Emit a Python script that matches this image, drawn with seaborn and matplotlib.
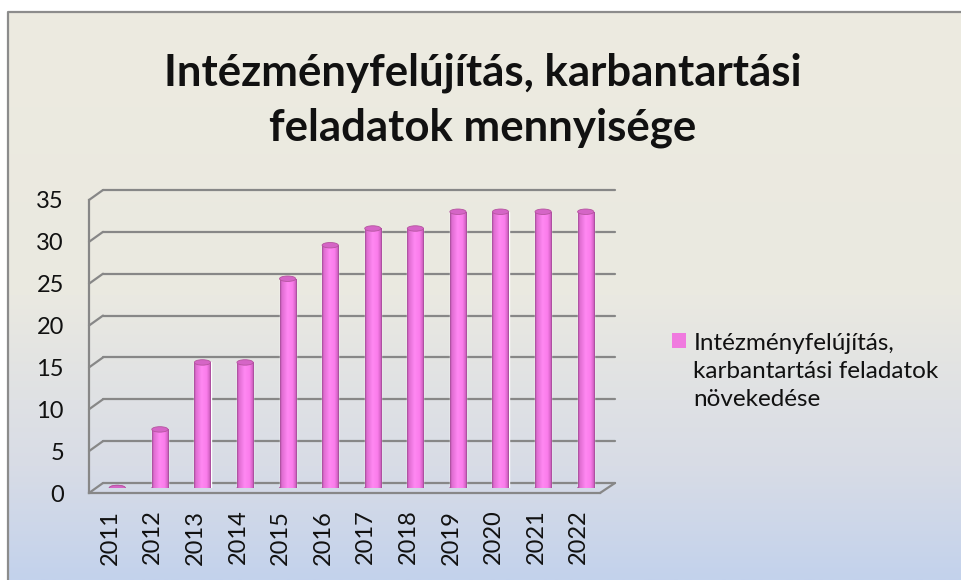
import numpy as np
import pandas as pd
import seaborn as sns
import matplotlib.pyplot as plt
from matplotlib.patches import Ellipse, Patch
from matplotlib.lines import Line2D
from matplotlib.colors import LinearSegmentedColormap

# data
years = ['2011', '2012', '2013', '2014', '2015', '2016',
         '2017', '2018', '2019', '2020', '2021', '2022']
values = [0, 7, 15, 15, 25, 29, 31, 31, 33, 33, 33, 33]
y_ticks = [0, 5, 10, 15, 20, 25, 30, 35]
title = 'Intézményfelújítás, karbantartási\nfeladatok mennyisége'
series_label = 'Intézményfelújítás,\nkarbantartási feladatok\nnövekedése'

sns.set_theme(style='white')
plt.rcParams['font.family'] = ['Lato', 'DejaVu Sans']
plt.rcParams['text.color'] = '#111111'
plt.rcParams['xtick.color'] = '#111111'
plt.rcParams['ytick.color'] = '#111111'

W, H = 961, 580
grid = '#878787'
fig = plt.figure(figsize=(W / 100, H / 100), dpi=100)


def box(left, right, top, bottom):
    # pixel box -> figure rect
    return [left / W, 1 - bottom / H, (right - left) / W, (bottom - top) / H]


# background gradient + border
bg = fig.add_axes([0, 0, 1, 1], zorder=0)
bg_cmap = LinearSegmentedColormap.from_list(
    'bg', [(0, '#EDEBE0'), (0.5, '#EAE9E1'), (0.8, '#D8DCE6'), (1, '#C3D2EC')])
bg.imshow(np.linspace(0, 1, 256).reshape(-1, 1), cmap=bg_cmap, aspect='auto',
          extent=[8, W, H, 12])
bg.plot([8, 8, W], [H, 12, 12], color='#8C8C8C', lw=1.6)
bg.set_xlim(0, W)
bg.set_ylim(H, 0)
bg.axis('off')

# back wall gridlines
back = fig.add_axes(box(103, 615, 190, 483), zorder=1)
back.set_xlim(0, 1)
back.set_ylim(0, 35)
for v in y_ticks:
    back.axhline(v, color=grid, lw=1.6, clip_on=False)
back.axis('off')

# front axis
front = fig.add_axes(box(89, 600, 200, 493), zorder=2)
front.patch.set_visible(False)
front.set_xlim(-0.5, 11.5)
front.set_ylim(0, 35)
front.set_yticks(y_ticks)
front.set_xticks(range(len(years)))
front.set_xticklabels(years, rotation=90)
front.set_xticks(np.arange(-0.5, len(years), 1), minor=True)
front.tick_params(axis='x', which='major', length=0, pad=12, labelsize=17)
front.tick_params(axis='x', which='minor', length=7.5, width=1.6, color=grid)
front.tick_params(axis='y', length=5, width=1.6, color=grid, pad=13, labelsize=17)
sns.despine(ax=front)
for s in ['left', 'bottom']:
    front.spines[s].set_color(grid)
    front.spines[s].set_linewidth(1.6)

# side wall / floor diagonals linking front axis and back wall
fig.canvas.draw()
for v in y_ticks:
    p0 = front.transData.transform((-0.5, v))
    p1 = back.transData.transform((0, v))
    fig.add_artist(Line2D([p0[0], p1[0]], [p0[1], p1[1]], transform=None,
                          color=grid, lw=1.6, zorder=1.5))
p0 = front.transData.transform((11.5, 0))
p1 = back.transData.transform((1, 0))
fig.add_artist(Line2D([p0[0], p1[0]], [p0[1], p1[1]], transform=None,
                      color=grid, lw=1.6, zorder=1.5))

# bars at mid depth
ax = fig.add_axes(box(96, 607, 195, 488), zorder=3)
df = pd.DataFrame({'year': years, 'value': values})
sns.barplot(data=df, x='year', y='value', color='#F47CE6', saturation=1,
            width=0.38, ax=ax)
cyl = LinearSegmentedColormap.from_list(
    'cyl', [(0, '#A24C96'), (0.1, '#DE6CD0'), (0.45, '#FF88F2'),
            (0.75, '#FA7DEB'), (0.92, '#D664C7'), (1, '#9E4892')])
for p, v in zip(list(ax.patches), values):
    x0, w = p.get_x(), p.get_width()
    ax.add_patch(Ellipse((x0 + w / 2, 0), w, 0.65, fc='#E772D8', ec='#B5559F',
                         lw=0.6, zorder=2))
    if v > 0:
        im = ax.imshow(np.linspace(0, 1, 64).reshape(1, -1), cmap=cyl,
                       aspect='auto', extent=[x0, x0 + w, 0, v], zorder=3)
        im.set_clip_path(p)
    ax.add_patch(Ellipse((x0 + w / 2, v), w, 0.65, fc='#D565C6', ec='#B5559F',
                         lw=0.6, zorder=4))
ax.set_xlim(-0.5, 11.5)
ax.set_ylim(0, 35)
ax.axis('off')

# legend
handle = Patch(facecolor='#F07ADF', edgecolor='none')
leg = fig.legend([handle], [series_label], loc='upper left',
                 bbox_to_anchor=(672 / W, 1 - 333 / H), frameon=False,
                 prop={'family': ['Lato', 'DejaVu Sans'], 'size': 17.5},
                 handlelength=0.58, handleheight=0.58, handletextpad=0.3,
                 borderpad=0, borderaxespad=0)
leg.texts[0].set_linespacing(1.4)
for col in leg._legend_handle_box.get_children():
    for item in col.get_children():
        item.align = 'top'

# title
fig.text(483 / W, 1 - 100 / H, title, ha='center', va='center',
         fontsize=31.5, fontweight='bold', linespacing=1.45,
         family=['Lato', 'DejaVu Sans'])

fig.savefig('out.png', dpi=100)
